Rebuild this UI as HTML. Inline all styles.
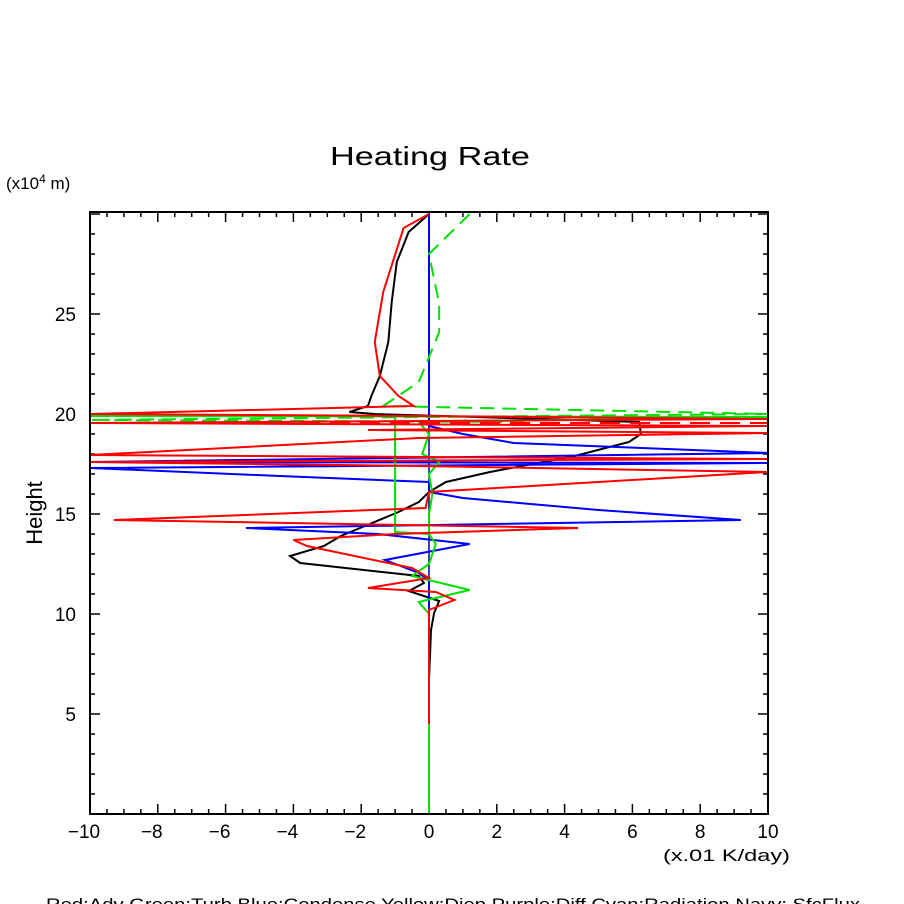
<!DOCTYPE html>
<html><head><meta charset="utf-8"><style>
body{margin:0;background:#fff}
svg{display:block;font-family:"Liberation Sans",sans-serif}
</style></head><body>
<svg id="chart" width="904" height="904" viewBox="0 0 904 904" xmlns="http://www.w3.org/2000/svg">
<rect width="904" height="904" fill="#fff"/>
<text x="330" y="165" font-size="26" textLength="200" lengthAdjust="spacingAndGlyphs">Heating Rate</text>
<text x="6" y="189" font-size="17">(x10<tspan dy="-6" font-size="12">4</tspan><tspan dy="6"> m)</tspan></text>
<text transform="translate(42,513) rotate(-90)" font-size="22" text-anchor="middle">Height</text>
<text x="663" y="861" font-size="17" textLength="127" lengthAdjust="spacingAndGlyphs">(x.01 K/day)</text>
<text x="46" y="910" font-size="17" textLength="814" lengthAdjust="spacingAndGlyphs">Red:Adv  Green:Turb  Blue:Condense  Yellow:Diep  Purple:Diff  Cyan:Radiation  Navy: SfcFlux</text>
<g id="ticks"></g>
<g id="series"></g>
<rect x="90" y="212" width="678" height="602" fill="none" stroke="#000" stroke-width="2"/>
</svg>
<script>
const xTicks=[-10,-8,-6,-4,-2,0,2,4,6,8,10];
const yTicks=[5,10,15,20,25];
const black=[[0,30],[-0.6,29.1],[-0.95,27.6],[-1.1,25.6],[-1.2,23.6],[-1.45,21.9],[-1.7,20.9],[-1.8,20.4],[-2.35,20.1],[-1.6,20.0],[6.2,19.6],[6.25,19.0],[5.9,18.6],[4.3,17.9],[1.8,17.1],[0.5,16.6],[0,16.1],[-0.3,15.6],[-0.9,15.1],[-1.75,14.5],[-2.6,13.9],[-3.1,13.4],[-4.1,12.9],[-3.8,12.55],[-0.3,11.9],[-0.15,11.55],[-0.6,11.15],[0.3,10.65],[0.15,10.05],[0.06,9.2],[0,6.7],[0,4.5]];
const red=[[0,30],[-0.75,29.3],[-1.35,26.1],[-1.6,23.6],[-1.45,21.9],[-0.9,20.9],[-0.45,20.4],[-10,20.0],[-0.2,19.9],[10,19.75],[-10,19.55],[10,19.4],[-1.8,19.2],[10,19.05],[-0.3,18.8],[-10,17.95],[10,17.75],[-10,17.6],[-0.3,17.4],[10,17.1],[0,16.1],[-0.1,15.3],[-9.3,14.7],[4.4,14.3],[-1,14.0],[-4,13.7],[-3.6,13.4],[-0.5,12.3],[0,11.8],[-1.8,11.3],[0.2,11.1],[0.75,10.7],[0,10.2],[0,4.5]];
const redDash=[[-10,19.55],[10,19.55]];
const blue=[[0,30],[0,19.4],[1,19.0],[2.5,18.55],[10,18.05],[-10,17.6],[10,17.55],[-10,17.3],[-4.4,16.9],[0,16.6],[0,16.1],[1,15.8],[5,15.2],[9.2,14.7],[-5.4,14.3],[-1.5,14.0],[1.2,13.5],[-1.3,12.7],[-0.3,12.05],[0,11.65],[0,0]];
const green=[[0,0],[0,10],[-0.3,10.6],[1.2,11.2],[-0.5,11.9],[0,12.5],[0.2,13.5],[0,14.0],[-1,14.1],[-1,19.9],[-10,19.9],[10,19.85],[-0.3,19.6],[0,19.0],[-0.2,18.0],[0.3,17.6],[0,17.0],[0.1,16.0],[0,15.0],[0,14.0]];
const greenDash=[[1.2,30],[0,28],[0.3,25.5],[0.3,24.1],[-0.3,21.6],[-1.35,20.4],[10,20.0],[-10,19.7],[3,19.6]];
const NS="http://www.w3.org/2000/svg";
const xs=v=>90+(v+10)*33.9;
const ys=v=>814-v*20;
const tg=document.getElementById('ticks'),sg=document.getElementById('series');
function ln(g,x1,y1,x2,y2){const l=document.createElementNS(NS,'line');l.setAttribute('x1',x1);l.setAttribute('y1',y1);l.setAttribute('x2',x2);l.setAttribute('y2',y2);l.setAttribute('stroke','#000');l.setAttribute('stroke-width','1.5');


g.appendChild(l);}
for(let v=-10;v<=10;v+=0.5){const x=xs(v),L=(v%2===0)?10:5;ln(tg,x,814,x,814-L);ln(tg,x,212,x,212+L);}
for(let v=1;v<=30;v++){const y=ys(v),L=(v%5===0)?10:5;ln(tg,90,y,90+L,y);ln(tg,768,y,768-L,y);}
xTicks.forEach(v=>{const t=document.createElementNS(NS,'text');t.setAttribute('x',xs(v)-(v<0?6:0));t.setAttribute('y',838);t.setAttribute('font-size','19');t.setAttribute('text-anchor','middle');t.textContent=(v<0?'\u2212'+(-v):v);


tg.appendChild(t);});
yTicks.forEach(v=>{const t=document.createElementNS(NS,'text');t.setAttribute('x',76);t.setAttribute('y',ys(v)+7);t.setAttribute('font-size','19');t.setAttribute('text-anchor','end');t.textContent=v;


tg.appendChild(t);});
function series(pts,col,dash,name){const p=document.createElementNS(NS,'polyline');p.setAttribute('points',pts.map(q=>xs(q[0])+','+ys(q[1])).join(' '));p.setAttribute('fill','none');p.setAttribute('stroke',col);p.setAttribute('stroke-width','2');if(dash)p.setAttribute('stroke-dasharray',dash);


sg.appendChild(p);}
series(black,'#000',null,'total-line');
series(blue,'#0000ff',null,'condense-line');
series(green,'#00e000',null,'turb-line');
series(greenDash,'#00e000','14 8','turb-dashed-line');
series(red,'#ff0000',null,'adv-line');
series(redDash,'#ff0000','20 10','adv-dashed-line');
const zl=document.createElementNS(NS,'line');zl.setAttribute('x1',xs(0));zl.setAttribute('x2',xs(0));zl.setAttribute('y1',ys(30));zl.setAttribute('y2',ys(0));zl.setAttribute('stroke','#0000a0');zl.setAttribute('stroke-width','1.5');


sg.insertBefore(zl,sg.firstChild);
</script>
</body></html>
